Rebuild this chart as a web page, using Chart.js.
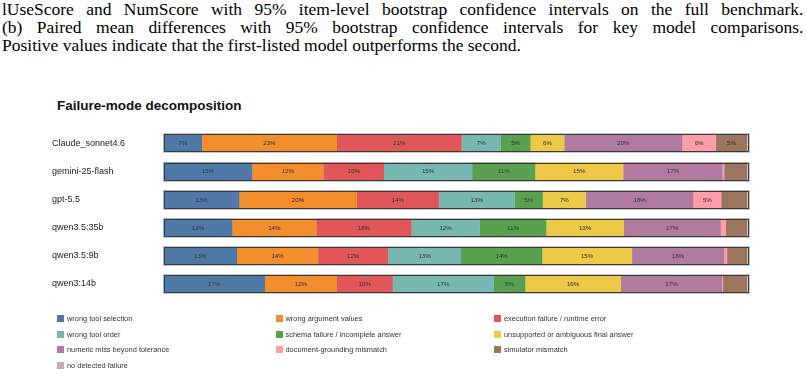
<!DOCTYPE html>
<html>
<head>
<meta charset="utf-8">
<script src="https://cdn.jsdelivr.net/npm/chart.js@4"></script>
<style>
  html, body { margin: 0; padding: 0; background: #fff; }
  body { width: 807px; height: 376px; position: relative; overflow: hidden; }
  #paper { position: absolute; left: 2px; top: 1px; width: 756px; transform: scaleX(1.06); transform-origin: 0 0; font-family: "Liberation Serif", "DejaVu Serif", serif; font-size: 16.5px; line-height: 18px; color: #000; }
  #paper .j { text-align: justify; text-align-last: justify; white-space: nowrap; }
  #paper .l { text-align: left; }
  #title { position: absolute; left: 57px; top: 98px; font-family: "Liberation Sans", Arial, sans-serif; font-weight: bold; font-size: 13.5px; color: #111; }
  #c { position: absolute; left: 0; top: 0; }
  .lg { position: absolute; font-family: "Liberation Sans", Arial, sans-serif; font-size: 7.4px; color: #333; white-space: nowrap; line-height: 8px; }
  .lg span.b { display: inline-block; width: 7px; height: 7px; vertical-align: top; margin-right: 3px; }
</style>
</head>
<body>
<div id="paper">
  <div class="j">lUseScore and NumScore with 95% item-level bootstrap confidence intervals on the full benchmark.</div>
  <div class="j">(b) Paired mean differences with 95% bootstrap confidence intervals for key model comparisons.</div>
  <div class="l">Positive values indicate that the first-listed model outperforms the second.</div>
</div>
<div id="title">Failure-mode decomposition</div>
<canvas id="c" width="807" height="376"></canvas>
<div id="legend"></div>
<script>
const models = ["Claude_sonnet4.6", "gemini-25-flash", "gpt-5.5", "qwen3.5:35b", "qwen3.5:9b", "qwen3:14b"];
const failureModes = [
  "wrong tool selection", "wrong argument values", "execution failure / runtime error",
  "wrong tool order", "schema failure / incomplete answer", "unsupported or ambiguous final answer",
  "numeric miss beyond tolerance", "document-grounding mismatch", "simulator mismatch",
  "no detected failure"
];
const modeColors = ["#4e79a7", "#f28e2b", "#e15759", "#76b7b2", "#59a14f", "#edc948", "#b07aa1", "#ff9da7", "#9c755f", "#bab0ac"];
// percentages per model, in failureModes order
const claudeSonnet = [6.6, 23.1, 21.4, 6.7, 5.1, 5.8, 20.2, 5.8, 5.3, 0];
const gemini25Flash = [15.2, 12.2, 10.4, 15.1, 10.8, 15.1, 17.0, 0.3, 3.9, 0];
const gpt55 = [13.0, 20.1, 14.1, 13.0, 4.8, 7.4, 18.4, 4.8, 4.4, 0];
const qwen35_35b = [11.8, 14.4, 16.3, 11.7, 11.4, 13.3, 16.6, 0.9, 3.6, 0];
const qwen35_9b = [12.6, 13.9, 12.0, 12.5, 13.9, 15.4, 15.8, 0.5, 3.4, 0];
const qwen3_14b = [17.4, 12.3, 9.6, 17.3, 5.4, 16.4, 17.3, 0.2, 4.1, 0];
const rows = [claudeSonnet, gemini25Flash, gpt55, qwen35_35b, qwen35_9b, qwen3_14b];
const labelThreshold = 4.5;

const datasets = failureModes.map((m, i) => ({
  label: m,
  data: rows.map(r => r[i]),
  backgroundColor: modeColors[i],
  borderWidth: 0,
  barPercentage: 0.62,
  categoryPercentage: 1.0
}));

const outlinePlugin = {
  id: 'outline',
  beforeDatasetsDraw(chart) {
    const ctx = chart.ctx, xs = chart.scales.x;
    const meta = chart.getDatasetMeta(0);
    const x0 = xs.getPixelForValue(0), x1 = xs.getPixelForValue(100);
    ctx.save();
    ctx.fillStyle = '#c8c8c8';
    meta.data.forEach(el => {
      ctx.fillRect(Math.round(x0) - 1, Math.round(el.y - el.height / 2) - 1, Math.round(x1 - x0) + 3, Math.round(el.height) + 3);
    });
    ctx.restore();
  },
  afterDatasetsDraw(chart) {
    const ctx = chart.ctx, xs = chart.scales.x;
    const meta = chart.getDatasetMeta(0);
    const x0 = xs.getPixelForValue(0), x1 = xs.getPixelForValue(100);
    ctx.save();
    ctx.font = '6.2px "Liberation Sans", Arial, sans-serif';
    ctx.fillStyle = '#333';
    ctx.textAlign = 'center';
    ctx.textBaseline = 'middle';
    chart.data.datasets.forEach((ds, di) => {
      const m = chart.getDatasetMeta(di);
      m.data.forEach((el, j) => {
        const v = ds.data[j];
        if (v >= labelThreshold) {
          ctx.fillText(Math.round(v) + '%', (el.x + el.base) / 2, el.y + 0.5);
        }
      });
    });
    ctx.strokeStyle = '#3a3a3a';
    ctx.lineWidth = 1;
    meta.data.forEach(el => {
      ctx.strokeRect(Math.round(x0) + 0.5, Math.round(el.y - el.height / 2) + 0.5, Math.round(x1 - x0), Math.round(el.height));
    });
    ctx.restore();
  }
};

const chart = new Chart(document.getElementById('c'), {
  type: 'bar',
  data: { labels: models, datasets },
  options: {
    indexAxis: 'y',
    responsive: false,
    animation: false,
    layout: { padding: { left: 52, right: 60, top: 129, bottom: 78 } },
    plugins: { legend: { display: false }, tooltip: { enabled: false }, title: { display: false } },
    scales: {
      x: { stacked: true, min: 0, max: 100, display: false },
      y: {
        stacked: true,
        grid: { display: false },
        border: { display: false },
        ticks: { crossAlign: 'far', color: '#222', font: { family: '"Liberation Sans", Arial, sans-serif', size: 9 }, padding: 0 },
        afterFit(scale) { scale.width = 111.5; }
      }
    }
  },
  plugins: [outlinePlugin]
});

const lg = document.getElementById('legend');
chart.data.datasets.forEach((ds, i) => {
  const col = i % 3, row = Math.floor(i / 3);
  const d = document.createElement('div');
  d.className = 'lg';
  d.style.left = (57 + col * 218.5) + 'px';
  d.style.top = (315 + row * 15.6) + 'px';
  d.innerHTML = '<span class="b" style="background:' + ds.backgroundColor + '"></span>' + ds.label;
  lg.appendChild(d);
});
</script>
</body>
</html>
